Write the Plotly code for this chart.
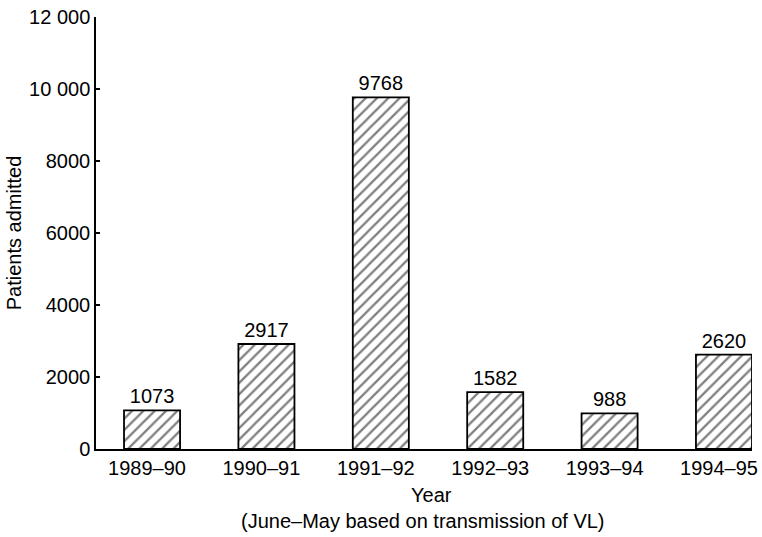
import plotly.graph_objects as go

years = ["1989–90", "1990–91", "1991–92", "1992–93", "1993–94", "1994–95"]
patients = [1073, 2917, 9768, 1582, 988, 2620]
y_ticks = [0, 2000, 4000, 6000, 8000, 10000, 12000]
y_tick_labels = ["0", "2000", "4000", "6000", "8000", "10 000", "12 000"]

FONT = "Liberation Sans, Arial, Helvetica, sans-serif"
FS = 20

fig = go.Figure()
fig.add_trace(go.Bar(
    x=list(range(len(years))),
    y=patients,
    width=0.49,
    marker=dict(
        color="white",
        line=dict(color="black", width=1.8),
        pattern=dict(shape="/", fgcolor="black", bgcolor="white", size=8, solidity=0.28),
    ),
    text=[str(v) for v in patients],
    textposition="outside",
    textfont=dict(family=FONT, size=FS, color="black"),
    cliponaxis=False,
))

# plot area at x 96..752, y 17..449
fig.update_layout(
    width=762, height=537,
    margin=dict(l=96, r=10, t=17, b=88, autoexpand=False),
    paper_bgcolor="white", plot_bgcolor="white",
    showlegend=False,
    font=dict(family=FONT, size=FS, color="black"),
    xaxis=dict(
        range=[-0.49, 5.245],
        tickmode="array",
        tickvals=list(range(len(years))),
        ticktext=years,
        showline=True, linecolor="black", linewidth=1.5,
        showgrid=False, zeroline=False, ticks="",
        ticklabeloverflow="allow",
        ticklabelshift=-5,
        tickfont=dict(family=FONT, size=FS, color="black"),
    ),
    yaxis=dict(
        range=[0, 12000],
        tickmode="array",
        tickvals=y_ticks,
        ticktext=y_tick_labels,
        showline=True, linecolor="black", linewidth=1.5,
        showgrid=False, zeroline=False,
        ticks="inside", ticklen=4, tickwidth=1.5, tickcolor="black",
        ticklabeloverflow="allow",
        tickfont=dict(family=FONT, size=FS, color="black"),
        title=dict(text="Patients admitted", font=dict(family=FONT, size=FS, color="black"), standoff=2),
    ),
    annotations=[
        dict(text="Year", x=0.511, xref="paper", y=-0.1065, yref="paper",
             xanchor="center", yanchor="middle", showarrow=False,
             font=dict(family=FONT, size=FS, color="black")),
        dict(text="(June–May based on transmission of VL)", x=0.498, xref="paper", y=-0.1667, yref="paper",
             xanchor="center", yanchor="middle", showarrow=False,
             font=dict(family=FONT, size=FS, color="black")),
    ],
)

fig.write_html(
    "out.html",
    config={"displayModeBar": False},
    post_script="document.body.style.margin='0';document.body.style.overflow='hidden';",
)
